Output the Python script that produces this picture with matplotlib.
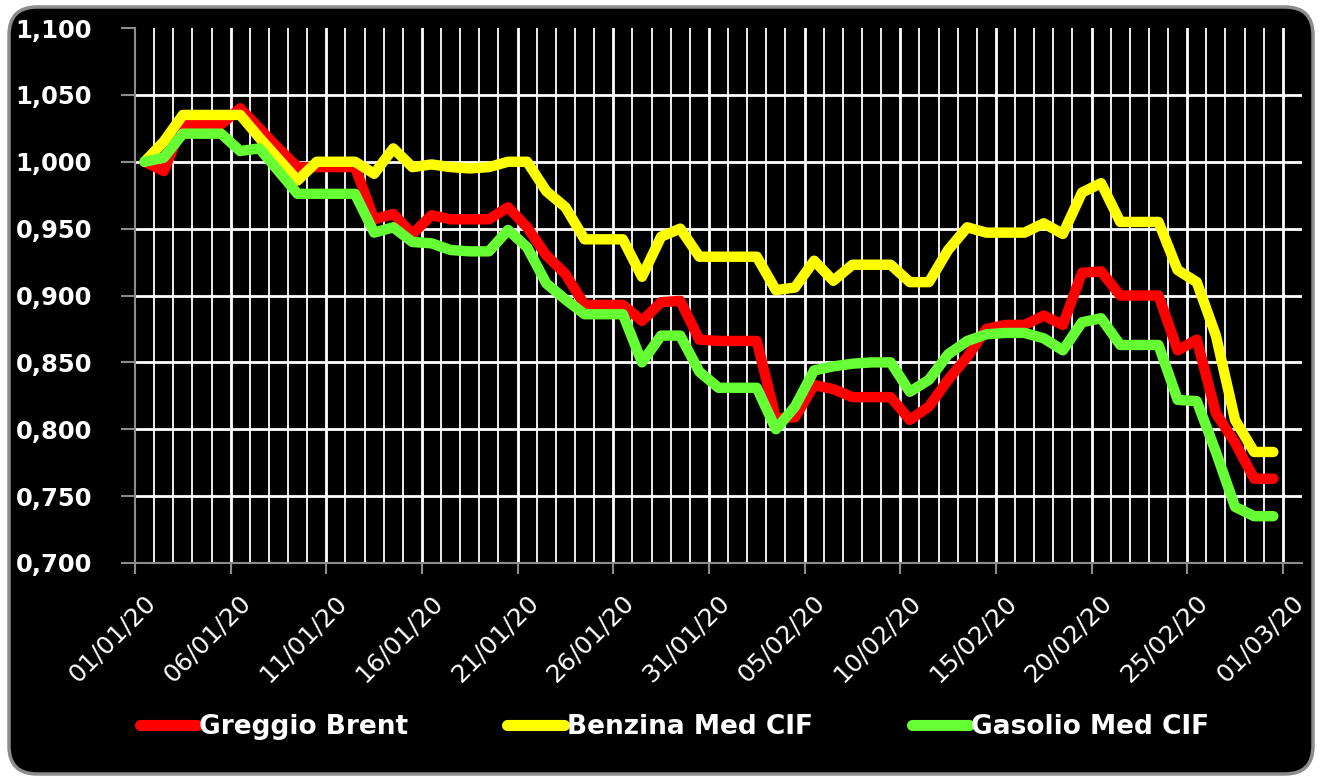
import matplotlib
matplotlib.use("Agg")
import matplotlib.pyplot as plt
import matplotlib.dates as mdates
from matplotlib.patches import FancyBboxPatch
from matplotlib.ticker import FuncFormatter, MultipleLocator
from matplotlib.transforms import ScaledTranslation
import pandas as pd

# dati giornalieri (indice, 01/01/2020 = 1)
giorni = pd.date_range("2020-01-01", "2020-02-29", freq="D")

brent = [1.000, 0.993, 1.028, 1.028, 1.028, 1.040, 1.025, 1.010, 0.996, 0.996,
         0.996, 0.996, 0.957, 0.961, 0.946, 0.960, 0.957, 0.957, 0.957, 0.966,
         0.951, 0.930, 0.916, 0.893, 0.893, 0.893, 0.881, 0.895, 0.896, 0.867,
         0.866, 0.866, 0.866, 0.808, 0.809, 0.833, 0.830, 0.824, 0.824, 0.824,
         0.807, 0.817, 0.837, 0.854, 0.875, 0.878, 0.878, 0.885, 0.878, 0.917,
         0.918, 0.900, 0.900, 0.900, 0.859, 0.867, 0.812, 0.790, 0.763, 0.763]

benzina = [1.000, 1.015, 1.035, 1.035, 1.035, 1.035, 1.018, 1.002, 0.986, 1.000,
           1.000, 1.000, 0.991, 1.010, 0.996, 0.998, 0.996, 0.995, 0.996, 1.000,
           1.000, 0.978, 0.966, 0.942, 0.942, 0.942, 0.914, 0.944, 0.950, 0.929,
           0.929, 0.929, 0.929, 0.904, 0.906, 0.926, 0.911, 0.923, 0.923, 0.923,
           0.910, 0.910, 0.934, 0.951, 0.947, 0.947, 0.947, 0.954, 0.946, 0.977,
           0.984, 0.955, 0.955, 0.955, 0.919, 0.910, 0.870, 0.807, 0.783, 0.783]

gasolio = [1.000, 1.003, 1.021, 1.021, 1.021, 1.008, 1.010, 0.993, 0.976, 0.976,
           0.976, 0.976, 0.947, 0.951, 0.940, 0.939, 0.934, 0.933, 0.933, 0.949,
           0.936, 0.909, 0.897, 0.886, 0.886, 0.886, 0.850, 0.870, 0.870, 0.843,
           0.831, 0.831, 0.831, 0.800, 0.817, 0.844, 0.847, 0.849, 0.850, 0.850,
           0.828, 0.837, 0.856, 0.866, 0.871, 0.872, 0.872, 0.868, 0.859, 0.880,
           0.883, 0.863, 0.863, 0.863, 0.822, 0.821, 0.783, 0.742, 0.735, 0.735]

serie = [("Greggio Brent", brent, "#ff0000"),
         ("Benzina Med CIF", benzina, "#ffff00"),
         ("Gasolio Med CIF", gasolio, "#66ff33")]

W, H = 1322, 781
fig = plt.figure(figsize=(W / 100, H / 100), dpi=100, facecolor="white")

# cornice nera arrotondata
bg = fig.add_axes([0, 0, 1, 1])
bg.set_xlim(0, W)
bg.set_ylim(0, H)
bg.axis("off")
bg.add_patch(FancyBboxPatch((9, 7), W - 18, H - 14,
                            boxstyle="round,pad=0,rounding_size=28",
                            facecolor="black", edgecolor="#8c8c8c", linewidth=2.5))

ax = fig.add_axes([135 / W, 1 - 563 / H, 1167 / W, 535 / H])
ax.set_facecolor("black")

x0 = pd.Timestamp("2020-01-01")
x1 = pd.Timestamp("2020-03-02")
ax.set_xlim(x0, x1)
ax.set_ylim(0.7, 1.1)

# griglia: una riga verticale per giorno
for d in pd.date_range("2020-01-02", "2020-03-01", freq="D"):
    lw = 2.0 if (d - x0).days % 5 == 0 else 1.3
    ax.axvline(d, color="white", lw=lw, zorder=1)
for v in [0.75, 0.80, 0.85, 0.90, 0.95, 1.00, 1.05]:
    ax.axhline(v, color="white", lw=2.0, zorder=1)

xs = giorni + pd.Timedelta(hours=12)
for nome, val, col in serie:
    ax.plot(xs, val, color=col, lw=7.5, solid_capstyle="round",
            solid_joinstyle="round", label=nome, zorder=3)

for s in ["top", "right"]:
    ax.spines[s].set_visible(False)
for s in ["left", "bottom"]:
    ax.spines[s].set_color("#8c8c8c")
    ax.spines[s].set_linewidth(1.5)

ax.yaxis.set_major_locator(MultipleLocator(0.05))
ax.yaxis.set_major_formatter(FuncFormatter(lambda v, p: f"{v:.3f}".replace(".", ",")))
ax.tick_params(axis="y", colors="#8c8c8c", length=10, width=1.5, pad=21,
               labelcolor="white", labelsize=17.5)
for t in ax.get_yticklabels():
    t.set_fontweight("bold")

ax.set_xticks(pd.date_range("2020-01-01", "2020-03-01", freq="5D"))
ax.xaxis.set_major_formatter(mdates.DateFormatter("%d/%m/%y"))
ax.tick_params(axis="x", colors="#8c8c8c", length=8, width=1.5, pad=18,
               labelcolor="white", labelsize=18)
sposta = ScaledTranslation(12 / 72, 0, fig.dpi_scale_trans)
for t in ax.get_xticklabels():
    t.set_rotation(45)
    t.set_ha("right")
    t.set_va("center")
    t.set_rotation_mode("anchor")
    t.set_transform(t.get_transform() + sposta)

leg = fig.legend(loc="center left", bbox_to_anchor=(140 / W, 1 - 727 / H),
                 ncol=3, frameon=False, borderpad=0, borderaxespad=0,
                 handlelength=2.15, handletextpad=0.1, columnspacing=3.75,
                 prop={"weight": "bold", "size": 19})
for t in leg.get_texts():
    t.set_color("white")
for h in leg.get_lines():
    h.set_linewidth(8)

fig.savefig("out.png", dpi=100, facecolor="white")
